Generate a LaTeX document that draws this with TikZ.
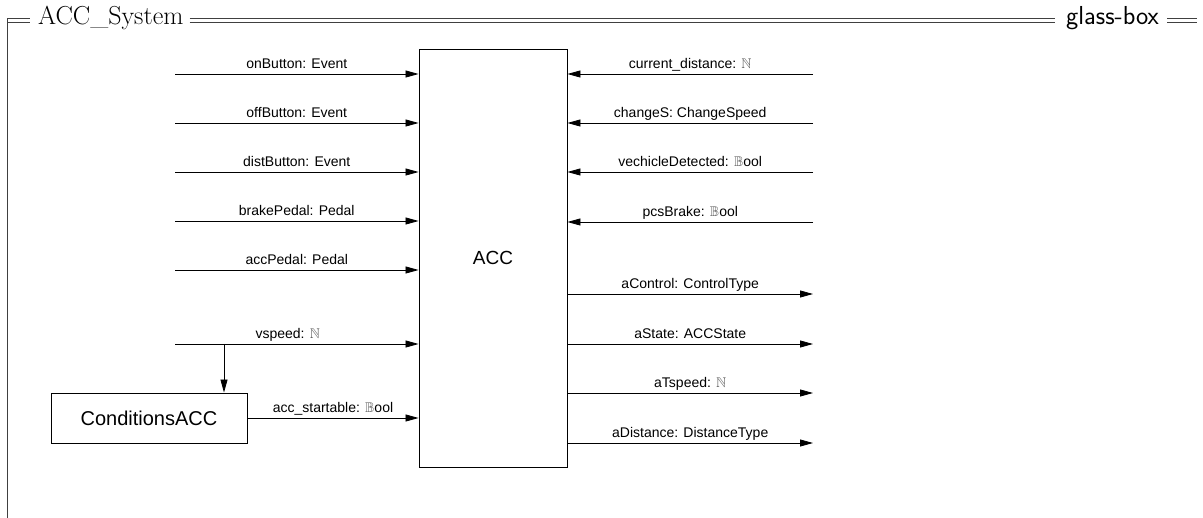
\documentclass[tikz,border=0pt]{standalone}
\usepackage{amssymb}
\usepackage{fontspec}
\newfontfamily\arial{Liberation Sans}
\usetikzlibrary{arrows.meta,calc}

% type names drawn in grey blackboard letters
\newcommand{\natT}{{\color{black!65}$\mathbb{N}$}}
\newcommand{\boolT}{{\color{black!65}$\mathbb{B}$}ool}

\tikzset{
  blk/.style={draw, line width=0.9pt, fill=white, inner sep=0pt, font=\arial},
  arr/.style={line width=0.8pt, -{Triangle[length=13pt,width=7pt]}},
  lbl/.style={anchor=base, yshift=5pt, inner sep=0pt, font=\arial\fontsize{14}{16}\selectfont},
  hdr/.style={line width=1pt, black!75},
}

\begin{document}
\begin{tikzpicture}[x=1pt, y=-1pt]
\useasboundingbox (0,0) rectangle (1203,518);

% frame header
\node[anchor=base west, inner sep=0pt, font=\fontsize{26}{28}\selectfont] (sys) at (38,25) {ACC\_System};
\node[anchor=base east, inner sep=0pt, font=\sffamily\fontsize{26}{28}\selectfont] (gb) at (1159,25) {glass-box};
\coordinate (ftl) at (7,19);
\coordinate (fbl) at (7,518);
\draw[hdr] (ftl) -- (30,19) (7,23) -- (30,23);
\draw[hdr] ([xshift=6pt]sys.east |- ftl) -- ([xshift=-11pt]gb.west |- ftl)
           ([xshift=6pt]sys.east |- 0,23) -- ([xshift=-11pt]gb.west |- 0,23);
\draw[hdr] (1167,19) -- (1197,19) (1167,23) -- (1197,23);
\draw[hdr] (ftl) -- (fbl);

% blocks
\node[blk, minimum width=148pt, minimum height=418pt, font=\arial\fontsize{19}{21}\selectfont] (acc) at (493,258) {ACC};
\node[blk, minimum width=196pt, minimum height=50pt, font=\arial\fontsize{20}{22}\selectfont] (cond) at (149,418) {ConditionsACC};

% free ends of the ports
\coordinate (i1) at (175,74);
\coordinate (i2) at (175,123);
\coordinate (i3) at (175,172);
\coordinate (i4) at (175,221);
\coordinate (i5) at (175,270);
\coordinate (vin) at (175,344);
\coordinate (vb) at (224,344);
\coordinate (r1) at (813,74);
\coordinate (r2) at (813,123);
\coordinate (r3) at (813,172);
\coordinate (r4) at (813,222);
\coordinate (o1) at (813,294);
\coordinate (o2) at (813,344);
\coordinate (o3) at (813,393);
\coordinate (o4) at (813,443);

% inputs from the left
\draw[arr] (i1) -- (i1 -| acc.west) node[lbl, midway] {onButton: Event};
\draw[arr] (i2) -- (i2 -| acc.west) node[lbl, midway] {offButton: Event};
\draw[arr] (i3) -- (i3 -| acc.west) node[lbl, midway] {distButton: Event};
\draw[arr] (i4) -- (i4 -| acc.west) node[lbl, midway] {brakePedal: Pedal};
\draw[arr] (i5) -- (i5 -| acc.west) node[lbl, midway] {accPedal: Pedal};
\draw[arr] (vin) -- (vin -| acc.west) node[lbl, pos=0.463] {vspeed: \natT};
\draw[arr] (vb) -- (vb |- cond.north);
\draw[arr] (cond.east) -- (cond.east -| acc.west) node[lbl, midway] {acc\_startable: \boolT};

% inputs from the right
\draw[arr] (r1) -- (r1 -| acc.east) node[lbl, midway] {current\_distance: \natT};
\draw[arr] (r2) -- (r2 -| acc.east) node[lbl, midway] {changeS: ChangeSpeed};
\draw[arr] (r3) -- (r3 -| acc.east) node[lbl, midway] {vechicleDetected: \boolT};
\draw[arr] (r4) -- (r4 -| acc.east) node[lbl, midway] {pcsBrake: \boolT};

% outputs
\draw[arr] (acc.east |- o1) -- (o1) node[lbl, midway] {aControl: ControlType};
\draw[arr] (acc.east |- o2) -- (o2) node[lbl, midway] {aState: ACCState};
\draw[arr] (acc.east |- o3) -- (o3) node[lbl, midway] {aTspeed: \natT};
\draw[arr] (acc.east |- o4) -- (o4) node[lbl, midway] {aDistance: DistanceType};
\end{tikzpicture}
\end{document}
